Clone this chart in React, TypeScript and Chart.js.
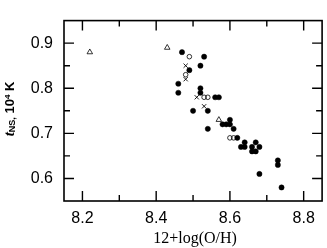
import React, { useEffect, useRef } from 'react';
import { Chart, registerables } from 'chart.js';
Chart.register(...registerables);

// Filled circles
const filledX = [8.47, 8.53, 8.52, 8.49, 8.46, 8.46, 8.52, 8.52, 8.56, 8.57, 8.50, 8.54, 8.54, 8.60, 8.58, 8.59, 8.60, 8.61, 8.62, 8.64, 8.63, 8.64, 8.67, 8.66, 8.66, 8.67, 8.68, 8.68, 8.73, 8.73, 8.74];
const filledY = [0.88, 0.87, 0.85, 0.84, 0.81, 0.79, 0.80, 0.79, 0.78, 0.78, 0.75, 0.75, 0.71, 0.73, 0.72, 0.72, 0.72, 0.71, 0.69, 0.68, 0.67, 0.67, 0.68, 0.67, 0.66, 0.66, 0.67, 0.61, 0.64, 0.63, 0.58];
// Open circles
const openX = [8.49, 8.48, 8.53, 8.54, 8.60, 8.61];
const openY = [0.87, 0.83, 0.78, 0.78, 0.69, 0.69];
// Crosses
const crossX = [8.48, 8.48, 8.51, 8.53];
const crossY = [0.85, 0.82, 0.78, 0.76];
// Open triangles
const triX = [8.22, 8.43, 8.57];
const triY = [0.88, 0.89, 0.73];

const xTickLabels = [8.2, 8.4, 8.6, 8.8];
const yTickLabels = [0.6, 0.7, 0.8, 0.9];
const xMinorTicks = [8.3, 8.5, 8.7];
const yMinorTicks = [0.65, 0.75, 0.85];
const xRange = [8.15, 8.85];
const yRange = [0.55, 0.95];
const xTitle = '12+log(O/H)';
const yTitleT = 't';
const yTitleSub = 'NS,';
const yTitleMain = ' 10';
const yTitleSup = '4';
const yTitleUnit = ' K';

const toPts = (xs: number[], ys: number[]) => xs.map((x, i) => ({ x, y: ys[i] }));

const framePlugin = {
  id: 'frame',
  afterDraw(chart: any) {
    const { ctx, chartArea: a, scales } = chart;
    const xs = scales.x, ys = scales.y;
    ctx.save();
    ctx.strokeStyle = '#000';
    ctx.lineWidth = 1.6;
    ctx.strokeRect(a.left, a.top, a.right - a.left, a.bottom - a.top);
    ctx.lineWidth = 1.4;
    const xt = (v: number, len: number) => {
      const p = xs.getPixelForValue(v);
      ctx.beginPath();
      ctx.moveTo(p, a.bottom); ctx.lineTo(p, a.bottom - len);
      ctx.moveTo(p, a.top); ctx.lineTo(p, a.top + len);
      ctx.stroke();
    };
    const yt = (v: number, len: number) => {
      const p = ys.getPixelForValue(v);
      ctx.beginPath();
      ctx.moveTo(a.left, p); ctx.lineTo(a.left + len, p);
      ctx.moveTo(a.right, p); ctx.lineTo(a.right - len, p);
      ctx.stroke();
    };
    xTickLabels.forEach(v => xt(v, 10));
    xMinorTicks.forEach(v => xt(v, 6));
    yTickLabels.forEach(v => yt(v, 10));
    yMinorTicks.forEach(v => yt(v, 6));

    // x title
    ctx.fillStyle = '#000';
    ctx.font = '16px "Liberation Serif"';
    ctx.textAlign = 'center';
    ctx.textBaseline = 'middle';
    ctx.fillText(xTitle, (a.left + a.right) / 2 + 2, 239);

    // y title (rotated)
    ctx.translate(9, 109);
    ctx.rotate(-Math.PI / 2);
    ctx.textAlign = 'left';
    ctx.textBaseline = 'alphabetic';
    const parts = [
      { t: yTitleT, f: 'italic bold 15px "Liberation Serif"', dy: 0 },
      { t: yTitleSub, f: 'bold 9px "Liberation Sans"', dy: 1 },
      { t: yTitleMain, f: 'bold 13px "Liberation Sans"', dy: 0 },
      { t: yTitleSup, f: 'bold 8px "Liberation Sans"', dy: -4 },
      { t: yTitleUnit, f: 'bold 13px "Liberation Sans"', dy: 0 },
    ];
    let total = 0;
    parts.forEach(p => { ctx.font = p.f; total += ctx.measureText(p.t).width; });
    let x = -total / 2;
    parts.forEach(p => {
      ctx.font = p.f;
      ctx.fillText(p.t, x, 5 + p.dy);
      x += ctx.measureText(p.t).width;
    });
    ctx.restore();
  },
};

export default function App() {
  const ref = useRef<HTMLCanvasElement>(null);
  useEffect(() => {
    if (!ref.current) return;
    const chart = new Chart(ref.current, {
      type: 'scatter',
      data: {
        datasets: [
          { data: toPts(filledX, filledY), pointStyle: 'circle', pointRadius: 2.6, backgroundColor: '#000', borderColor: '#000', borderWidth: 0.5 },
          { data: toPts(openX, openY), pointStyle: 'circle', pointRadius: 2.3, backgroundColor: 'rgba(0,0,0,0)', borderColor: '#000', borderWidth: 0.8 },
          { data: toPts(crossX, crossY), pointStyle: 'crossRot', pointRadius: 3, backgroundColor: '#000', borderColor: '#000', borderWidth: 0.9 },
          { data: toPts(triX, triY), pointStyle: 'triangle', pointRadius: 3.2, backgroundColor: 'rgba(0,0,0,0)', borderColor: '#000', borderWidth: 0.8 },
        ],
      },
      options: {
        responsive: false,
        animation: false,
        layout: { padding: { top: 1, right: 3, left: 0, bottom: 0 } },
        plugins: { legend: { display: false }, tooltip: { enabled: false } },
        scales: {
          x: {
            type: 'linear', min: xRange[0], max: xRange[1],
            grid: { display: false, drawTicks: false },
            border: { display: false },
            afterBuildTicks: (s: any) => { s.ticks = xTickLabels.map(v => ({ value: v })); },
            afterFit: (s: any) => { s.height = 47; },
            ticks: { color: '#000', padding: 8, font: { family: '"Liberation Sans"', size: 16 }, callback: (v: any) => Number(v).toFixed(1), maxRotation: 0 },
          },
          y: {
            type: 'linear', min: yRange[0], max: yRange[1],
            grid: { display: false, drawTicks: false },
            border: { display: false },
            afterBuildTicks: (s: any) => { s.ticks = yTickLabels.map(v => ({ value: v })); },
            afterFit: (s: any) => { s.width = 64; },
            ticks: { color: '#000', padding: 11, font: { family: '"Liberation Sans"', size: 16 }, callback: (v: any) => Number(v).toFixed(1) },
          },
        },
      },
      plugins: [framePlugin],
    });
    return () => chart.destroy();
  }, []);
  return (
    <div style={{ position: 'fixed', left: 0, top: 0, width: 327, height: 248, background: '#fff' }}>
      <canvas ref={ref} width={327} height={248} style={{ display: 'block' }} />
    </div>
  );
}
